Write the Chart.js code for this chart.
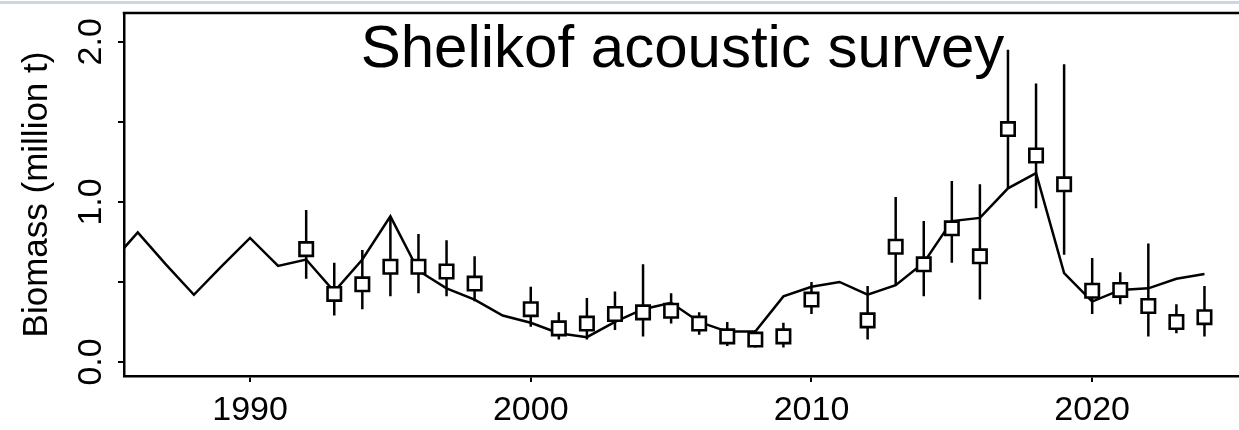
<!DOCTYPE html>
<html>
<head>
<meta charset="utf-8">
<script src="https://cdn.jsdelivr.net/npm/chart.js@4.4.1/dist/chart.umd.min.js"></script>
<style>
  html, body { margin: 0; padding: 0; background: #fff; overflow: hidden; }
  #band { position: absolute; left: 0; top: 1px; width: 1239px; height: 3px; background: #c9d6e5; }
  #wrap { position: absolute; left: 0; top: 0; width: 1239px; height: 430px; }
</style>
</head>
<body>
<div id="wrap"><canvas id="myChart"></canvas></div>
<div id="band"></div>
<script>
// model fit (line)
var fitYears = [1985, 1986, 1987, 1988, 1989, 1990, 1991, 1992, 1993, 1994, 1995, 1996, 1997, 1998, 1999,
  2000, 2001, 2002, 2003, 2004, 2005, 2006, 2007, 2008, 2009, 2010, 2011, 2012, 2013, 2014,
  2015, 2016, 2017, 2018, 2019, 2020, 2021, 2022, 2023, 2024];
var fitValues = [0.61, 0.81, 0.61, 0.42, 0.60, 0.775, 0.60, 0.64, 0.44, 0.64, 0.91, 0.57, 0.46, 0.39, 0.29,
  0.245, 0.18, 0.155, 0.25, 0.33, 0.37, 0.25, 0.19, 0.19, 0.41, 0.47, 0.50, 0.42, 0.48, 0.62,
  0.88, 0.90, 1.085, 1.18, 0.555, 0.377, 0.45, 0.46, 0.52, 0.55];

// survey estimates with intervals
var surveyYears = [1992, 1993, 1994, 1995, 1996, 1997, 1998, 2000, 2001, 2002, 2003, 2004, 2005, 2006, 2007,
  2008, 2009, 2010, 2012, 2013, 2014, 2015, 2016, 2017, 2018, 2019, 2020, 2021, 2022, 2023, 2024];
var surveyValues = [0.705, 0.425, 0.485, 0.595, 0.595, 0.565, 0.49, 0.33, 0.21, 0.24, 0.30, 0.31, 0.32, 0.24, 0.16,
  0.14, 0.16, 0.39, 0.26, 0.72, 0.61, 0.835, 0.66, 1.455, 1.29, 1.11, 0.445, 0.45, 0.35, 0.25, 0.28];
var surveyLow = [0.52, 0.29, 0.33, 0.41, 0.43, 0.41, 0.38, 0.22, 0.14, 0.14, 0.20, 0.16, 0.24, 0.17, 0.10,
  0.09, 0.09, 0.30, 0.14, 0.48, 0.41, 0.62, 0.39, 1.085, 0.96, 0.67, 0.30, 0.36, 0.16, 0.18, 0.16];
var surveyHigh = [0.95, 0.62, 0.70, 0.90, 0.80, 0.76, 0.66, 0.47, 0.31, 0.40, 0.44, 0.61, 0.43, 0.31, 0.25,
  0.20, 0.245, 0.50, 0.475, 1.03, 0.88, 1.13, 1.11, 1.95, 1.74, 1.86, 0.65, 0.56, 0.74, 0.36, 0.475];

var xTicks = [1990, 2000, 2010, 2020];
var yTicks = [0, 0.5, 1, 1.5, 2];
var yTickLabels = ["0.0", "", "1.0", "", "2.0"];

var chartTitle = "Shelikof acoustic survey";
var yTitle = "Biomass (million t)";

var FONT = '"Liberation Sans", Arial, sans-serif';

var fitData = [];
for (var i = 0; i < fitYears.length; i++) fitData.push({x: fitYears[i], y: fitValues[i]});
var surveyData = [];
for (var i = 0; i < surveyYears.length; i++) surveyData.push({x: surveyYears[i], y: surveyValues[i]});

// vertical interval lines, drawn under the squares
var errorBars = {
  id: 'errorBars',
  beforeDatasetsDraw: function(chart) {
    var ctx = chart.ctx, x = chart.scales.x, y = chart.scales.y, a = chart.chartArea;
    ctx.save();
    ctx.beginPath();
    ctx.rect(a.left, a.top, a.right - a.left, a.bottom - a.top);
    ctx.clip();
    ctx.strokeStyle = '#000';
    ctx.lineWidth = 2.5;
    ctx.beginPath();
    for (var i = 0; i < surveyYears.length; i++) {
      var px = x.getPixelForValue(surveyYears[i]);
      ctx.moveTo(px, y.getPixelForValue(surveyLow[i]));
      ctx.lineTo(px, y.getPixelForValue(surveyHigh[i]));
    }
    ctx.stroke();
    ctx.restore();
  }
};

// top line of the box + title inside the plot
var frameAndTitle = {
  id: 'frameAndTitle',
  afterDraw: function(chart) {
    var ctx = chart.ctx, a = chart.chartArea;
    ctx.save();
    ctx.strokeStyle = '#000';
    ctx.lineWidth = 2.5;
    ctx.beginPath();
    ctx.moveTo(a.left - 1.25, a.top);
    ctx.lineTo(a.right + 2, a.top);
    ctx.stroke();
    ctx.fillStyle = '#000';
    ctx.font = '60px ' + FONT;
    ctx.textAlign = 'center';
    ctx.textBaseline = 'alphabetic';
    ctx.fillText(chartTitle, (a.left + a.right) / 2 + 1, a.top + 54);
    ctx.restore();
  }
};

var myChart = document.getElementById("myChart").getContext("2d");
var myChart = new Chart(myChart, {
  type: 'line',
  data: {
    datasets: [
      {
        type: 'scatter',
        label: 'Survey',
        data: surveyData,
        pointStyle: 'rect',
        pointRadius: 9.5,
        pointBorderWidth: 2.6,
        pointBackgroundColor: '#fff',
        pointBorderColor: '#000',
        showLine: false,
        order: 0
      },
      {
        label: 'Model',
        data: fitData,
        borderColor: '#000',
        borderWidth: 2.5,
        pointRadius: 0,
        tension: 0,
        fill: false,
        order: 1
      }
    ]
  },
  options: {
    responsive: true,
    maintainAspectRatio: false,
    animation: false,
    events: [],
    layout: { autoPadding: false, padding: { top: 13, left: 0, right: 0, bottom: 0 } },
    plugins: { legend: { display: false }, tooltip: { enabled: false }, title: { display: false } },
    scales: {
      x: {
        type: 'linear',
        min: 1985.51,
        max: 2025.23,
        afterBuildTicks: function(s) { s.ticks = xTicks.map(function(v) { return {value: v}; }); },
        afterFit: function(s) { s.height = 54; s.paddingLeft = 0; s.paddingRight = 0; },
        grid: { drawOnChartArea: false, drawTicks: true, tickLength: 6, color: '#000', lineWidth: 2 },
        border: { display: true, color: '#000', width: 2.5 },
        ticks: {
          color: '#000',
          font: { family: FONT, size: 34 },
          padding: 8,
          maxRotation: 0,
          autoSkip: false,
          callback: function(v) { return String(v); }
        }
      },
      y: {
        type: 'linear',
        min: -0.0875,
        max: 2.18,
        afterBuildTicks: function(s) { s.ticks = yTicks.map(function(v) { return {value: v}; }); },
        afterFit: function(s) { s.width = 124; s.paddingTop = 0; s.paddingBottom = 0; },
        grid: { drawOnChartArea: false, drawTicks: true, tickLength: 6, color: '#000', lineWidth: 2 },
        border: { display: true, color: '#000', width: 2.5 },
        title: {
          display: true,
          text: yTitle,
          color: '#000',
          font: { family: FONT, size: 35, lineHeight: 1.2 },
          padding: { top: 16, bottom: 0 }
        },
        ticks: {
          color: '#000',
          font: { family: FONT, size: 34 },
          padding: 3,
          minRotation: 90,
          maxRotation: 90,
          crossAlign: 'center',
          autoSkip: false,
          callback: function(v) {
            var k = yTicks.indexOf(v);
            return k >= 0 ? yTickLabels[k] : '';
          }
        }
      }
    }
  },
  plugins: [errorBars, frameAndTitle]
});
</script>
</body>
</html>
